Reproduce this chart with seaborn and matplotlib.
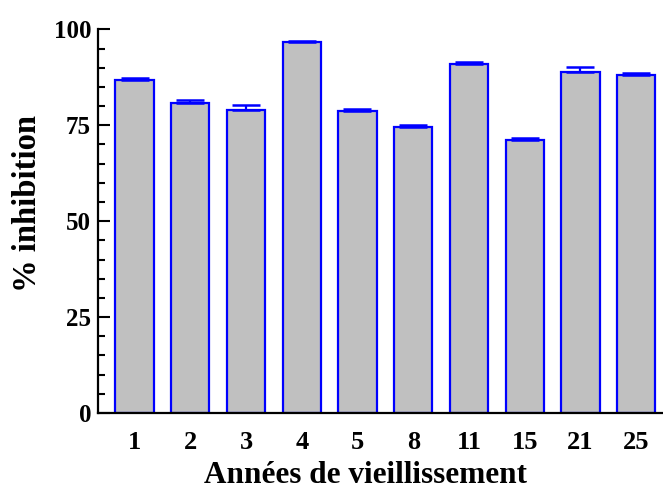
import matplotlib
matplotlib.use("Agg")
import matplotlib.pyplot as plt
import seaborn as sns
import pandas as pd
from matplotlib.ticker import MultipleLocator

annees = ["1", "2", "3", "4", "5", "8", "11", "15", "21", "25"]
inhibition = [86.7, 80.9, 78.9, 96.7, 78.7, 74.5, 90.9, 71.2, 88.9, 88.1]
erreur = [0.6, 0.6, 1.3, 0.3, 0.5, 0.5, 0.6, 0.4, 1.3, 0.6]

sns.set_theme(style="ticks")
plt.rcParams["font.family"] = ["Liberation Serif", "DejaVu Serif"]
plt.rcParams["font.weight"] = "bold"

df = pd.DataFrame({"annee": annees, "inhibition": inhibition})

fig = plt.figure(figsize=(6.63, 4.92), dpi=100)
ax = fig.add_axes([0.1478, 0.1606, 0.8522, 0.7798])

sns.barplot(data=df, x="annee", y="inhibition", order=annees, ax=ax,
            color="#c0c0c0", saturation=1, width=0.69,
            edgecolor="#0000ff", linewidth=1.6, errorbar=None)

centres = [p.get_x() + p.get_width() / 2 for p in ax.patches]
hauteurs = [p.get_height() for p in ax.patches]
ax.errorbar(centres, hauteurs, yerr=[[0] * len(erreur), erreur], fmt="none",
            ecolor="#0000ff", elinewidth=1.6, capsize=10, capthick=1.8, zorder=3)

ax.set_xlim(-0.655, 9.48)
ax.set_ylim(0, 100)
ax.yaxis.set_major_locator(MultipleLocator(25))
ax.yaxis.set_minor_locator(MultipleLocator(5))

for side in ("top", "right"):
    ax.spines[side].set_visible(False)
for side in ("left", "bottom"):
    ax.spines[side].set_linewidth(1.6)
    ax.spines[side].set_color("black")

ax.tick_params(axis="y", which="major", direction="in", length=8.5, width=1.5,
               pad=5, labelsize=18, colors="black")
ax.tick_params(axis="y", which="minor", direction="in", length=5, width=1.5,
               color="black")
ax.tick_params(axis="x", length=0, pad=13, labelsize=19, colors="black")
for lab in ax.get_xticklabels() + ax.get_yticklabels():
    lab.set_fontweight("bold")

ax.set_xlabel("Années de vieillissement", fontsize=22.5, fontweight="bold",
              labelpad=5, color="black")
ax.set_ylabel("% inhibition", fontsize=23.5, fontweight="bold", labelpad=7.5,
              color="black")
ax.xaxis.label.set_x(0.473)
ax.yaxis.label.set_y(0.547)

fig.savefig("out.png", dpi=100)
